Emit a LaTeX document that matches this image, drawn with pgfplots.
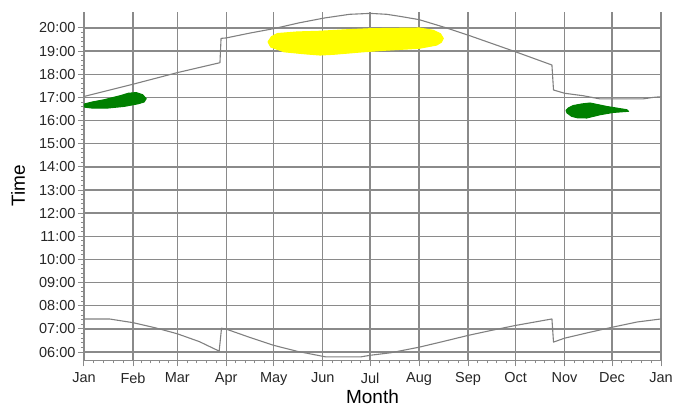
\documentclass[border=0pt]{standalone}
\usepackage{pgfplots}
\pgfplotsset{compat=1.18}
\usepackage{fontspec}
\setmainfont{Liberation Sans}
\definecolor{gridgray}{RGB}{138,138,138}
\definecolor{curvegray}{RGB}{128,128,128}
\definecolor{blobgreen}{RGB}{0,128,0}
\definecolor{blobyellow}{RGB}{255,255,0}
\begin{document}
\begin{tikzpicture}
\begin{axis}[
  scale only axis,
  width=577pt, height=348.3pt,
  xmin=0, xmax=365, ymin=5.644, ymax=20.69,
  axis lines*=left,
  axis line style={gridgray, line width=1.4pt},
  xtick={0,31,59,90,120,151,181,212,243,273,304,334,365},
  xticklabels={Jan,Feb,Mar,Apr,May,Jun,Jul,Aug,Sep,Oct,Nov,Dec,Jan},
  minor xtick={6.2,12.4,18.6,24.8,36.6,42.2,47.8,53.4,65.2,71.4,77.6,83.8,96,102,108,114,126.2,132.4,138.6,144.8,157,163,169,175,187.2,193.4,199.6,205.8,218.2,224.4,230.6,236.8,249,255,261,267,279.2,285.4,291.6,297.8,310,316,322,328,340.2,346.4,352.6,358.8},
  ytick={6,...,20},
  yticklabels={06:00,07:00,08:00,09:00,10:00,11:00,12:00,13:00,14:00,15:00,16:00,17:00,18:00,19:00,20:00},
  minor y tick num=4,
  tick align=outside,
  major tick length=6pt, minor tick length=3pt,
  every tick/.style={gridgray, line width=1pt},
  grid=major,
  major grid style={gridgray, line width=1.4pt},
  tick label style={font=\fontsize{14.5}{16}\selectfont, text=black!85},
  xticklabel style={yshift=-3pt},
  yticklabel style={xshift=1pt},
  xlabel={Month}, ylabel={Time},
  label style={font=\fontsize{19}{21}\selectfont},
  xlabel style={at={(axis description cs:0.5,0)}, anchor=south, yshift=-46.5pt},
  ylabel style={at={(axis description cs:-0.1144,0.5)}, anchor=center},
  clip=false,
]
% yellow blob
\addplot[draw=blobyellow, fill=blobyellow, line width=1pt, line join=round] coordinates {
(116.4,19.40) (118.5,19.62) (122.3,19.76) (135,19.83) (149.3,19.86) (165,19.92)
(181,19.97) (212,20.0) (221,19.90) (225.5,19.75) (227.3,19.55) (226,19.38)
(223.1,19.26) (212,19.12) (191.5,19.04) (176.7,18.97) (157.7,18.86) (149.3,18.83)
(140,18.88) (126.5,18.97) (118.1,19.18)} -- cycle;
% green left
\addplot[draw=blobgreen, fill=blobgreen, line width=1pt, line join=round] coordinates {
(0.3,16.72) (5,16.80) (12.7,16.90) (23.2,17.08) (28,17.18) (33,17.21) (37,17.12)
(39.4,16.95) (38,16.80) (34,16.72) (25.3,16.61) (15,16.54) (5,16.54) (0.3,16.58)} -- cycle;
% green right
\addplot[draw=blobgreen, fill=blobgreen, line width=1pt, line join=round] coordinates {
(304.9,16.44) (306.5,16.55) (309.5,16.65) (315,16.72) (320.1,16.76) (330.7,16.61)
(343.3,16.47) (344.5,16.40) (334.8,16.35) (326.4,16.25) (318,16.11) (312,16.12)
(308.5,16.18) (305.5,16.33)} -- cycle;
% sunset
\addplot[curvegray, line width=1.1pt, line join=round] coordinates {
(0,17.04) (31,17.57) (59,18.07) (86,18.50) (86.7,19.55) (90,19.57) (105,19.78)
(120,19.97) (136,20.22) (152,20.43) (168,20.59) (181,20.63) (191.5,20.59)
(200,20.50) (212,20.36) (229.4,20.00) (243,19.69) (258,19.33) (273,18.97)
(296,18.40) (297,17.32) (304,17.18) (316,17.07) (326,16.94) (354,16.94)
(360,17.00) (365,17.03)};
% sunrise
\addplot[curvegray, line width=1.1pt, line join=round] coordinates {
(0,7.43) (16,7.43) (31,7.27) (45,7.05) (59,6.79) (73,6.45) (85.5,6.04) (87,7.03)
(90,6.99) (105,6.63) (120,6.29) (135,6.03) (153,5.79) (175,5.79) (181,5.86)
(194,5.97) (212,6.21) (228,6.47) (243,6.72) (258,6.94) (273,7.15) (296,7.43)
(297,6.43) (304,6.60) (319,6.84) (334,7.07) (350,7.30) (365,7.43)};
\end{axis}
\pgfresetboundingbox
\path[use as bounding box] ([xshift=-84pt,yshift=-46pt]current axis.south west) rectangle ([xshift=16pt,yshift=12pt]current axis.north east);
\end{tikzpicture}
\end{document}
